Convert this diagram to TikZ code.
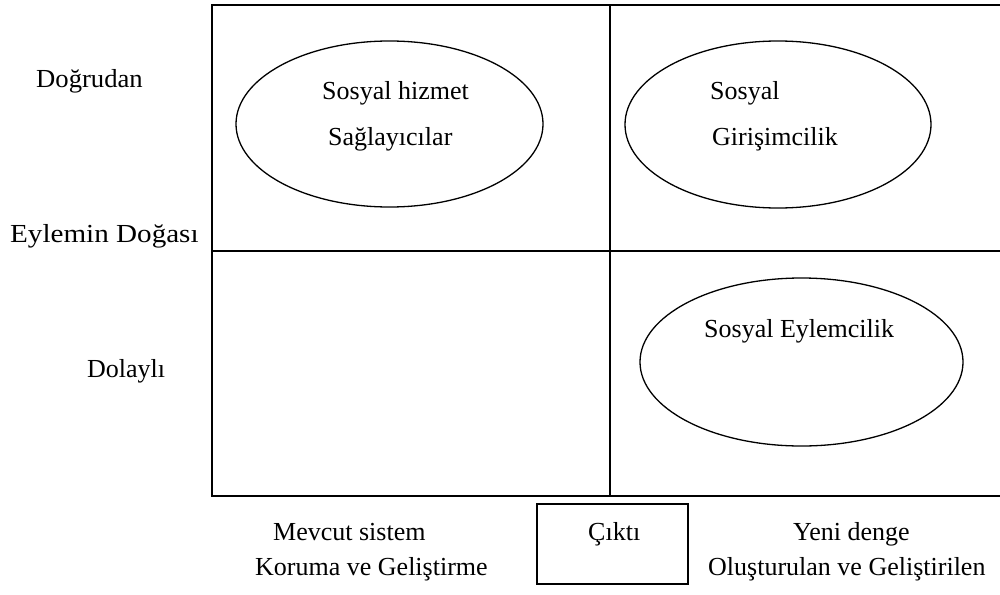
\documentclass[tikz,border=0pt]{standalone}
\usepackage{fontspec}
\setmainfont{Liberation Serif}
\usetikzlibrary{shapes.geometric}
\begin{document}
\begin{tikzpicture}[x=1pt,y=-1pt,
  lbl/.style={anchor=base west,inner sep=0pt,font=\fontsize{26}{30}\selectfont},
  oval/.style={draw,ellipse,line width=1.3pt,inner sep=0pt},
  frame/.style={line width=2pt},
  outbox/.style={draw,line width=1.5pt,inner sep=0pt}]
\useasboundingbox (0,0) rectangle (1000,594);
% frame grid
\coordinate (tr) at (1000,5);
\coordinate (tl) at (212,5);
\coordinate (bl) at (212,496);
\coordinate (br) at (1000,496);
\coordinate (mt) at (610,5);
\coordinate (mb) at (610,496);
\coordinate (ml) at (212,250.5);
\coordinate (mr) at (1000,250.5);
\draw[frame] (tr) -- (tl) -- (bl) -- (br);
\draw[frame] (mt) -- (mb);
\draw[frame] (ml) -- (mr);
% ellipses
\node[oval,minimum width=307pt,minimum height=166pt] (e1) at (389.5,124) {};
\node[oval,minimum width=306pt,minimum height=167pt] (e2) at (778,124.5) {};
\node[oval,minimum width=323pt,minimum height=168pt] (e3) at (801.5,362) {};
% ellipse texts
\node[lbl] (t1a) at (322,99) {Sosyal hizmet};
\node[lbl] (t1b) at (328,145) {Sağlayıcılar};
\node[lbl] (t2a) at (710,99) {Sosyal};
\node[lbl] (t2b) at (712,145) {Girişimcilik};
\node[lbl] (t3) at (704,337) {Sosyal Eylemcilik};
% left labels
\node[lbl] (dog) at (36,87) {\scalebox{1.025}[1]{Doğrudan}};
\node[lbl] (eyl) at (10,242) {\scalebox{1.12}[1]{Eylemin Doğası}};
\node[lbl] (dol) at (87,377) {Dolaylı};
% bottom labels
\node[outbox,minimum width=151pt,minimum height=80pt] (out) at (612.5,544) {};
\node[lbl] (cikti) at (588,540) {Çıktı};
\node[lbl] (mev) at (273,540) {Mevcut sistem};
\node[lbl] (kor) at (255,575) {Koruma ve Geliştirme};
\node[lbl] (yen) at (793,540) {Yeni denge};
\node[lbl] (olu) at (708,575) {Oluşturulan ve Geliştirilen};
\end{tikzpicture}
\end{document}
